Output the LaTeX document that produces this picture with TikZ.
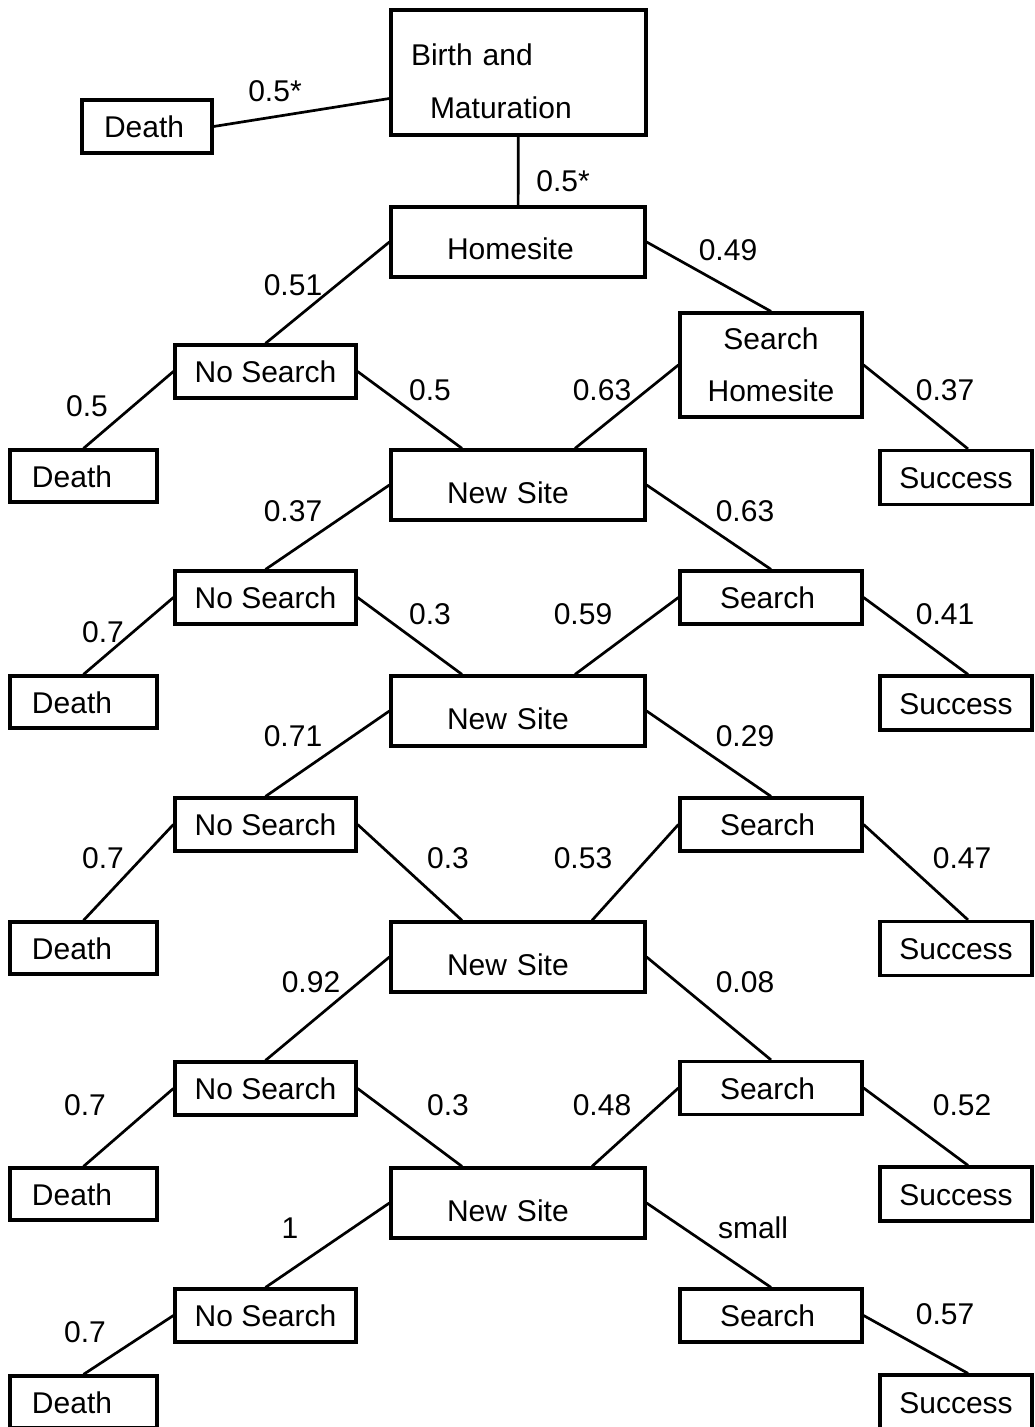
\documentclass[tikz,border=0pt]{standalone}
\usepackage{fontspec}
\setmainfont{Liberation Sans}
\usetikzlibrary{calc}

\tikzset{
  box/.style={draw, line width=1.6pt, inner sep=0pt},
  site/.style={box, minimum height=35pt, text width=71pt, inner xsep=28pt,
    align=left, text height=18pt, text depth=0pt},
  nosearch/.style={box, minimum width=90.5pt, minimum height=26.5pt,
    text height=11pt, text depth=0pt},
  search/.style={box, minimum height=26.5pt, text width=51pt, inner xsep=20pt,
    align=left, text height=11pt, text depth=0pt},
  death/.style={box, minimum height=26pt, text width=51.5pt, inner xsep=11pt,
    align=left, text height=11pt, text depth=0pt},
  success/.style={box, minimum width=76pt, minimum height=27pt,
    text height=11pt, text depth=0pt},
  prob/.style={inner sep=0pt},
  branch/.style={line width=1.35pt},
}

\begin{document}
\begin{tikzpicture}[x=0.5pt,y=-0.5pt,font=\fontsize{15}{18}\selectfont]
  \useasboundingbox (0,0) rectangle (1034,1427);

  % root
  \node[box, minimum height=62.5pt, text width=107.5pt, inner xsep=10pt,
    align=left] (birth) at (518.5,72.5)
    {\rule{0pt}{20pt}Birth and\\[8.5pt]\hspace*{9.5pt}Maturation};
  \node[death, minimum height=26.5pt, text width=43pt] (death0) at (147,126.5) {Death};
  \node[site] (home) at (518,242) {Homesite};

  % first round
  \node[nosearch] (nos1) at (265.5,371.5) {No Search};
  \node[box, minimum width=91pt, minimum height=52pt, align=center] (shome)
    at (771,365) {Search\\[8pt]Homesite};
  \node[death] (death1) at (83.5,476) {Death};
  \node[site] (news1) at (518,485) {New Site};
  \node[success] (succ1) at (956,477.5) {Success};

  % second round
  \node[nosearch] (nos2) at (265.5,597.5) {No Search};
  \node[search] (srch2) at (771,597.5) {Search};
  \node[death] (death2) at (83.5,702) {Death};
  \node[site] (news2) at (518,711) {New Site};
  \node[success] (succ2) at (956,703) {Success};

  % third round
  \node[nosearch] (nos3) at (265.5,824.5) {No Search};
  \node[search] (srch3) at (771,824.5) {Search};
  \node[death] (death3) at (83.5,948) {Death};
  \node[site] (news3) at (518,957) {New Site};
  \node[success] (succ3) at (956,948.5) {Success};

  % fourth round
  \node[nosearch] (nos4) at (265.5,1088.5) {No Search};
  \node[search] (srch4) at (771,1088) {Search};
  \node[death] (death4) at (83.5,1194) {Death};
  \node[site] (news4) at (518,1203) {New Site};
  \node[success] (succ4) at (956,1194) {Success};

  % last round
  \node[nosearch] (nos5) at (265.5,1315.5) {No Search};
  \node[search] (srch5) at (771,1315.5) {Search};
  \node[death] (death5) at (83.5,1402) {Death};
  \node[success] (succ5) at (956,1402) {Success};

  \path[branch] (death0.east) edge ($(birth.west)+(0,26)$)
    (birth) edge (home)
    (home.west) edge (nos1.north)
    (home.east) edge (shome.north)
    (nos1.west) edge (death1.north)
    (nos1.east) edge ($(news1.north)+(-56,0)$)
    (shome.west) edge ($(news1.north)+(57,0)$)
    (shome.east) edge ($(succ1.north)+(12,0)$)
    (news1.west) edge (nos2.north)
    (news1.east) edge (srch2.north)
    (nos2.west) edge (death2.north)
    (nos2.east) edge ($(news2.north)+(-56,0)$)
    (srch2.west) edge ($(news2.north)+(57,0)$)
    (srch2.east) edge ($(succ2.north)+(12,0)$)
    (news2.west) edge (nos3.north)
    (news2.east) edge (srch3.north)
    (nos3.west) edge (death3.north)
    (nos3.east) edge ($(news3.north)+(-56,0)$)
    (srch3.west) edge ($(news3.north)+(74,0)$)
    (srch3.east) edge ($(succ3.north)+(12,0)$)
    (news3.west) edge (nos4.north)
    (news3.east) edge (srch4.north)
    (nos4.west) edge (death4.north)
    (nos4.east) edge ($(news4.north)+(-56,0)$)
    (srch4.west) edge ($(news4.north)+(74,0)$)
    (srch4.east) edge ($(succ4.north)+(12,0)$)
    (news4.west) edge (nos5.north)
    (news4.east) edge (srch5.north)
    (nos5.west) edge (death5.north)
    (srch5.east) edge ($(succ5.north)+(12,0)$);

  % probabilities
  \node[prob] (p0a) at (275,91) {0.5*};
  \node[prob] (p0b) at (563,181) {0.5*};
  \node[prob] (p1a) at (293,285) {0.51};
  \node[prob] (p1b) at (728,250) {0.49};
  \node[prob] (p1c) at (87,406) {0.5};
  \node[prob] (p1d) at (430,390) {0.5};
  \node[prob] (p1e) at (602,390) {0.63};
  \node[prob] (p1f) at (945,390) {0.37};
  \node[prob] (p2a) at (293,511) {0.37};
  \node[prob] (p2b) at (745,511) {0.63};
  \node[prob] (p2c) at (103,632) {0.7};
  \node[prob] (p2d) at (430,614) {0.3};
  \node[prob] (p2e) at (583,614) {0.59};
  \node[prob] (p2f) at (945,614) {0.41};
  \node[prob] (p3a) at (293,736) {0.71};
  \node[prob] (p3b) at (745,736) {0.29};
  \node[prob] (p3c) at (103,858) {0.7};
  \node[prob] (p3d) at (448,858) {0.3};
  \node[prob] (p3e) at (583,858) {0.53};
  \node[prob] (p3f) at (962,858) {0.47};
  \node[prob] (p4a) at (311,982) {0.92};
  \node[prob] (p4b) at (745,982) {0.08};
  \node[prob] (p4c) at (85,1105) {0.7};
  \node[prob] (p4d) at (448,1105) {0.3};
  \node[prob] (p4e) at (602,1105) {0.48};
  \node[prob] (p4f) at (962,1105) {0.52};
  \node[prob] (p5a) at (290,1228) {1};
  \node[prob] (p5b) at (753,1228) {small};
  \node[prob] (p5c) at (85,1332) {0.7};
  \node[prob] (p5d) at (945,1314) {0.57};
\end{tikzpicture}
\end{document}
